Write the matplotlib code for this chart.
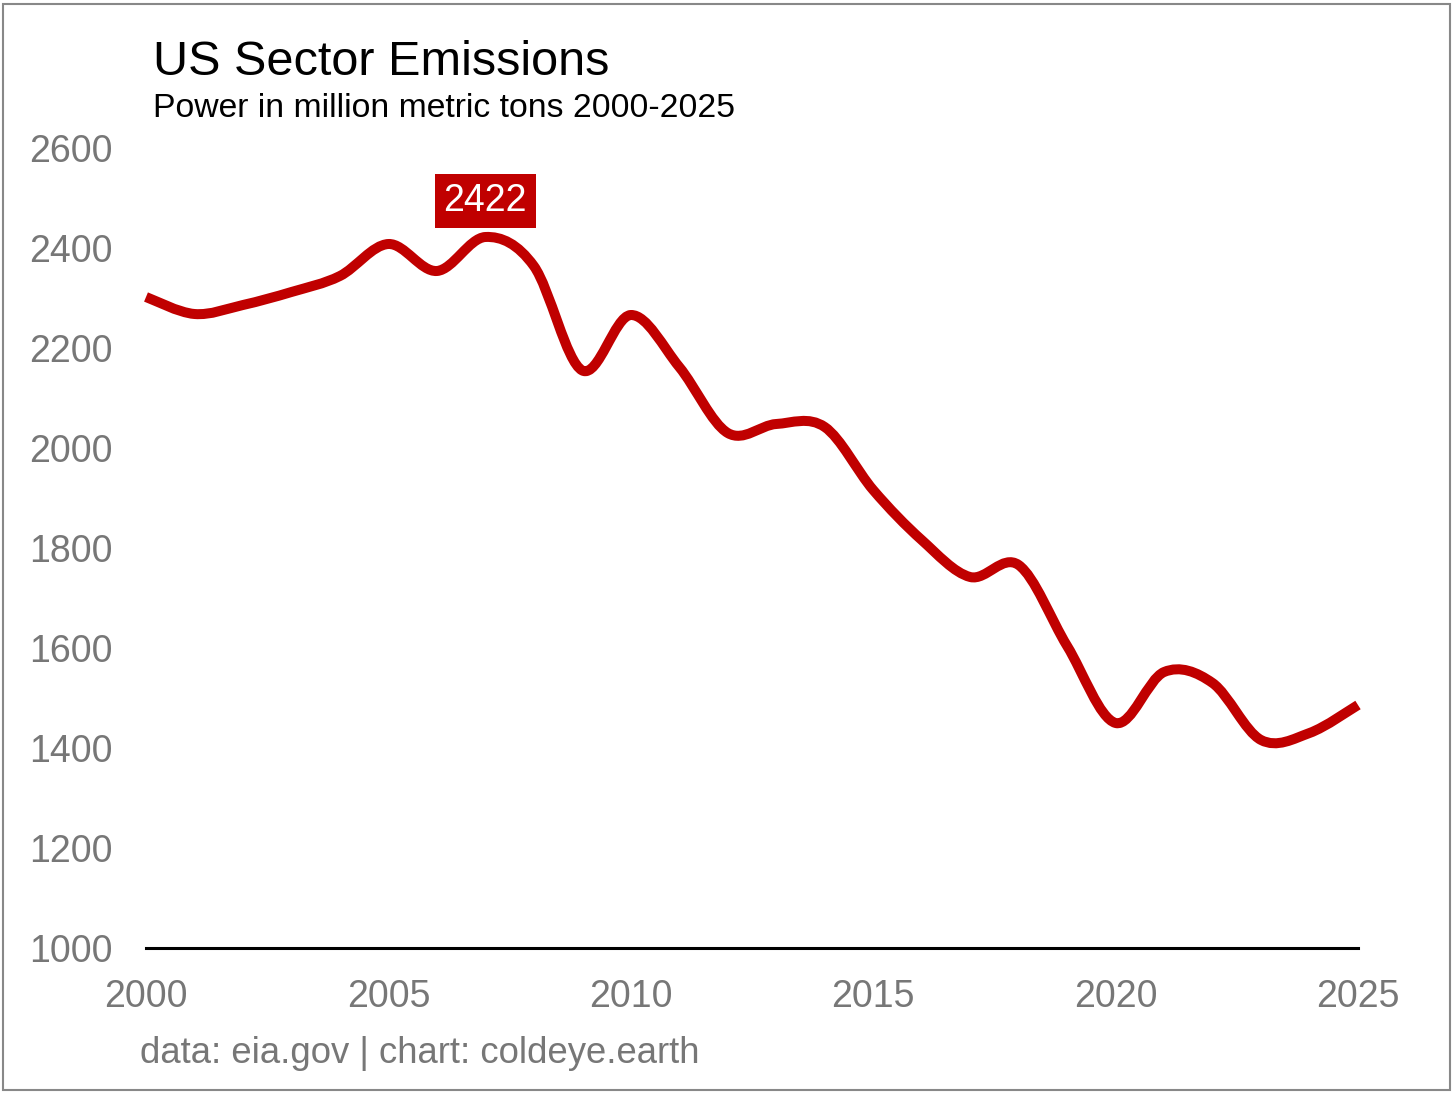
import numpy as np
import matplotlib.pyplot as plt
from matplotlib.path import Path
from matplotlib.patches import PathPatch, Rectangle

plt.rcParams['font.family'] = ['Liberation Sans', 'DejaVu Sans']

# Werte (Mio. t CO2, Stromsektor)
years = list(range(2000, 2026))
emissions = [2302, 2268, 2286, 2312, 2344, 2408, 2354, 2422, 2364, 2155,
             2266, 2162, 2030, 2048, 2042, 1916, 1816, 1742, 1766, 1604,
             1450, 1552, 1530, 1416, 1430, 1486]
y_ticks = [1000, 1200, 1400, 1600, 1800, 2000, 2200, 2400, 2600]
x_ticks = [2000, 2005, 2010, 2015, 2020, 2025]
peak_label = '2422'

red = '#C00000'
gray = '#777777'

fig = plt.figure(figsize=(14.56, 10.94), dpi=100)
ax = fig.add_axes([146/1456, 1 - 948/1094, (1358-146)/1456, (948-148)/1094])

# geglaettete Linie (Catmull-Rom als Bezier-Pfad)
pts = np.column_stack([np.array(years, float), np.array(emissions, float)])
verts = [pts[0]]
codes = [Path.MOVETO]
n = len(pts)
for i in range(n - 1):
    p0 = pts[max(i - 1, 0)]
    p1 = pts[i]
    p2 = pts[i + 1]
    p3 = pts[min(i + 2, n - 1)]
    verts += [p1 + (p2 - p0) / 6, p2 - (p3 - p1) / 6, p2]
    codes += [Path.CURVE4] * 3
ax.add_patch(PathPatch(Path(verts, codes), facecolor='none', edgecolor=red,
                       lw=7.2, capstyle='butt', joinstyle='round', clip_on=False))

ax.set_xlim(2000, 2025)
ax.set_ylim(1000, 2600)
ax.set_xticks(x_ticks)
ax.set_yticks(y_ticks)
ax.tick_params(axis='both', length=0, labelsize=27, colors=gray)
ax.tick_params(axis='y', pad=24)
ax.tick_params(axis='x', pad=22)
for s in ['top', 'right', 'left']:
    ax.spines[s].set_visible(False)
ax.spines['bottom'].set_color('black')
ax.spines['bottom'].set_linewidth(2.2)

# Label am Hoechstwert
i_peak = emissions.index(max(emissions))
ax.text(years[i_peak], 2494, peak_label, ha='center', va='center', color='white',
        fontsize=27, bbox=dict(boxstyle='square,pad=0.24', fc=red, ec='none'))

fig.text(153/1456, 1 - 75/1094, 'US Sector Emissions', fontsize=35, va='baseline')
fig.text(153/1456, 1 - 117/1094, 'Power in million metric tons 2000-2025', fontsize=24.3, va='baseline')
fig.text(140/1456, 1 - 1063/1094, 'data: eia.gov | chart: coldeye.earth', fontsize=26.3,
         color=gray, va='baseline')

fig.patches.append(Rectangle((3/1456, 4/1094), 1447/1456, 1086/1094, transform=fig.transFigure,
                             fill=False, ec='#888888', lw=1.5))

fig.savefig('out.png', dpi=100)
